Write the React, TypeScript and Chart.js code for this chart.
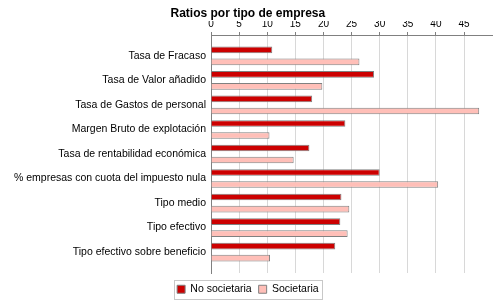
import React, { useEffect, useRef } from 'react';
import { Chart, registerables } from 'chart.js';

Chart.register(...registerables);

const title = 'Ratios por tipo de empresa';
const categories = [
  'Tasa de Fracaso',
  'Tasa de Valor añadido',
  'Tasa de Gastos de personal',
  'Margen Bruto de explotación',
  'Tasa de rentabilidad económica',
  '% empresas con cuota del impuesto nula',
  'Tipo medio',
  'Tipo efectivo',
  'Tipo efectivo sobre beneficio',
];
const seriesNames = ['No societaria', 'Societaria'];
const noSocietaria = [10.9, 29.0, 18.0, 23.9, 17.5, 30.0, 23.2, 23.0, 22.1];
const societaria = [26.4, 19.8, 47.7, 10.4, 14.7, 40.4, 24.6, 24.3, 10.5];
const xTicks = [0, 5, 10, 15, 20, 25, 30, 35, 40, 45];
const xMax = 50.1;

const FONT = 'Liberation Sans';

const legendBorder = {
  id: 'legendBorder',
  afterDraw(chart: any) {
    const lg = chart.legend;
    if (!lg || !lg.legendHitBoxes || !lg.legendHitBoxes.length) return;
    const hb = lg.legendHitBoxes;
    let l = Infinity, r = -Infinity, t = Infinity;
    hb.forEach((h: any) => {
      l = Math.min(l, h.left);
      r = Math.max(r, h.left + h.width);
      t = Math.min(t, h.top);
    });
    const ctx = chart.ctx;
    ctx.save();
    ctx.strokeStyle = '#c8c8c8';
    ctx.lineWidth = 1;
    ctx.strokeRect(Math.round(l - 3) + 0.5, Math.round(t - 4) + 0.5, Math.round(r - l + 7), 19);
    ctx.restore();
  },
};

export default function App() {
  const ref = useRef<HTMLCanvasElement>(null);
  useEffect(() => {
    if (!ref.current) return;
    const chart = new Chart(ref.current, {
      type: 'bar',
      data: {
        datasets: [
          {
            label: seriesNames[0],
            data: noSocietaria.map((v, i) => ({ x: v, y: i })),
            backgroundColor: '#cc0000',
            borderColor: '#808080',
            borderWidth: 1,
          },
          {
            label: seriesNames[1],
            data: societaria.map((v, i) => ({ x: v, y: i })),
            backgroundColor: '#ffbfb8',
            borderColor: '#808080',
            borderWidth: 1,
          },
        ],
      },
      options: {
        indexAxis: 'y',
        animation: false,
        responsive: false,
        devicePixelRatio: 1,
        categoryPercentage: 0.98,
        barPercentage: 0.55,
        layout: { padding: { left: 3, right: 7.3, top: 0, bottom: -4.5 } },
        plugins: {
          title: {
            display: true,
            text: title,
            color: '#000',
            font: { family: FONT, size: 12, weight: 'bold' },
            padding: { top: 6.5, bottom: 0 },
          },
          legend: {
            position: 'bottom',
            title: {
              display: true,
              text: '',
              font: { family: FONT, size: 1 },
              padding: { top: 0, bottom: 2.8 },
            },
            labels: {
              color: '#000',
              font: { family: FONT, size: 10.5 },
              boxWidth: 8,
              boxHeight: 8,
              padding: 7,
            },
          },
          tooltip: { enabled: false },
        },
        scales: {
          x: {
            type: 'linear',
            position: 'top',
            min: 0,
            max: xMax,
            afterBuildTicks: (axis: any) => {
              axis.ticks = xTicks.map((v) => ({ value: v }));
            },
            afterFit: (scale: any) => {
              scale.height = 14.1;
            },
            ticks: {
              color: '#000',
              font: { family: FONT, size: 10 },
              padding: 1.5,
              maxRotation: 0,
            },
            grid: {
              color: '#d8d8d8',
              borderDash: [2, 2],
              tickLength: 3,
              tickColor: '#808080',
              tickBorderDash: [],
            },
            border: { display: true, color: '#808080' },
          },
          y: {
            type: 'linear',
            reverse: true,
            offset: false,
            min: -0.85,
            max: 8.85,
            afterBuildTicks: (axis: any) => {
              axis.ticks = categories.map((_, i) => ({ value: i }));
            },
            afterFit: (scale: any) => {
              scale.width = 208;
            },
            ticks: {
              color: '#000',
              font: { family: FONT, size: 10.5 },
              padding: 5,
              autoSkip: false,
              callback: (v: any) => categories[v as number] ?? '',
            },
            grid: { display: false, drawTicks: false, offset: false },
            border: { display: true, color: '#808080' },
          },
        },
      },
      plugins: [legendBorder],
    } as any);
    return () => chart.destroy();
  }, []);
  return (
    <div style={{ position: 'fixed', left: 0, top: 0, width: 500, height: 300, background: '#fff' }}>
      <canvas ref={ref} width={500} height={300} style={{ width: 500, height: 300, display: 'block' }} />
    </div>
  );
}
